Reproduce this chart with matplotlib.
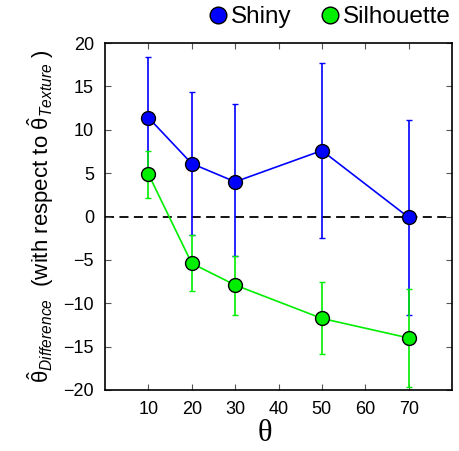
import matplotlib
matplotlib.use("Agg")
import matplotlib.pyplot as plt
from matplotlib.lines import Line2D

# data
angles = [10, 20, 30, 50, 70]
shiny = [11.4, 6.1, 4.0, 7.6, -0.1]
shiny_top = [18.4, 14.4, 13.0, 17.7, 11.1]
shiny_bot = [4.5, -2.1, -4.6, -2.45, -11.3]
silh = [4.9, -5.4, -7.9, -11.75, -14.0]
silh_top = [7.6, -2.1, -4.5, -7.6, -8.4]
silh_bot = [2.15, -8.6, -11.3, -15.9, -19.6]
xticks = [10, 20, 30, 40, 50, 60, 70]
yticks = [-20, -15, -10, -5, 0, 5, 10, 15, 20]

plt.rcParams['font.family'] = ['Liberation Sans', 'DejaVu Sans']
plt.rcParams['mathtext.fontset'] = 'custom'
plt.rcParams['mathtext.rm'] = 'Liberation Sans'
plt.rcParams['mathtext.it'] = 'Liberation Sans:italic'

fig = plt.figure(figsize=(4.59, 4.51), dpi=100)
ax = fig.add_axes([105/459, 1 - 390/451, 347/459, 347/451])

ax.axhline(0, color='black', ls=(0, (5, 3)), lw=1.3, zorder=1)


def draw(vals, top, bot, col):
    yerr = [[v - b for v, b in zip(vals, bot)], [t - v for v, t in zip(vals, top)]]
    ax.errorbar(angles, vals, yerr=yerr, color=col, lw=1.2, elinewidth=1.2,
                capsize=2.5, capthick=1.2, marker='o', markersize=10,
                markerfacecolor=col, markeredgecolor='black', markeredgewidth=1.0,
                zorder=3)


draw(shiny, shiny_top, shiny_bot, '#0000ff')
draw(silh, silh_top, silh_bot, '#00ee00')

ax.set_xlim(0, 80)
ax.set_ylim(-20, 20)
ax.set_xticks(xticks)
ax.set_yticks(yticks)
ax.tick_params(direction='in', top=True, right=True, labelsize=13, length=4,
               width=0.8, color='#555555', pad=8)
for s in ax.spines.values():
    s.set_linewidth(1.2)

ax.set_xlabel('θ', fontsize=22, family='Liberation Serif')
ax.xaxis.set_label_coords((265 - 105) / 347, -0.085)
ax.set_ylabel(r'$\hat{\mathrm{\theta}}_{Difference}$  (with respect to $\hat{\mathrm{\theta}}_{Texture}$ )',
              fontsize=16)
ax.yaxis.set_label_coords(-(105 - 56) / 347, 0.5)

handles = [Line2D([], [], ls='none', marker='o', markersize=12, markerfacecolor='#0000ff',
                  markeredgecolor='black', label='Shiny'),
           Line2D([], [], ls='none', marker='o', markersize=12, markerfacecolor='#00ee00',
                  markeredgecolor='black', label='Silhouette')]
fig.legend(handles=handles, loc='upper right', bbox_to_anchor=(1.03, 1.035), ncol=2,
           frameon=False, fontsize=17.5, handletextpad=0.0, columnspacing=1.0,
           handlelength=1.1)

fig.savefig('out.png', dpi=100)
